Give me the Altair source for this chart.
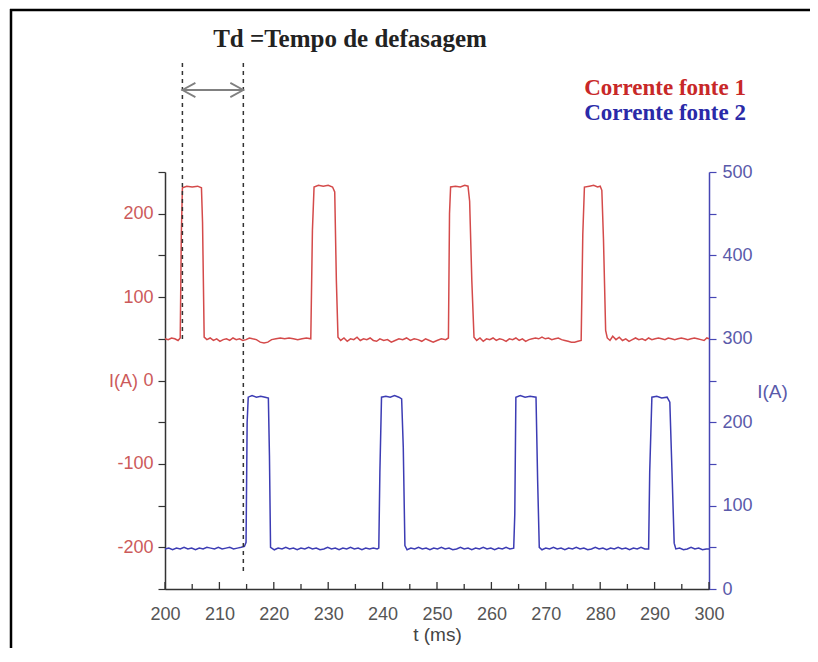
import altair as alt
import pandas as pd

# ---------------- data ----------------
# Corrente fonte 1 (left axis, red)
t1 = [200.0, 200.6, 201.2, 201.8, 202.4, 202.8, 203.0, 203.2, 204.0, 205.0, 206.0, 206.7, 206.9, 207.2,
      207.7, 208.3, 208.9, 209.5, 210.1, 210.7, 211.3, 211.9, 212.5, 213.1, 213.7, 214.3, 214.9, 215.5,
      216.1, 216.8, 217.5, 218.2, 218.9, 219.6, 220.4, 221.2, 222.0, 222.8, 223.6, 224.4, 225.2, 226.0,
      226.8, 227.1, 227.4, 228.2, 229.1, 230.0, 230.8, 231.2, 231.5, 231.8, 232.3, 232.9, 233.5, 234.1,
      234.7, 235.3, 235.9, 236.5, 237.1, 237.7, 238.3, 238.9, 239.5, 240.2, 240.9, 241.6, 242.3, 243.0,
      243.7, 244.4, 245.1, 245.8, 246.5, 247.2, 247.9, 248.6, 249.3, 250.0, 250.8, 251.6, 252.1, 252.3,
      252.5, 253.4, 254.3, 255.1, 255.7, 256.0, 256.4, 256.8, 257.3, 257.9, 258.5, 259.1, 259.7, 260.3,
      260.9, 261.5, 262.1, 262.7, 263.3, 263.9, 264.5, 265.1, 265.7, 266.3, 266.9, 267.5, 268.1, 268.7,
      269.3, 269.9, 270.5, 271.1, 271.7, 272.3, 272.9, 273.5, 274.1, 274.7, 275.3, 275.9, 276.5, 276.8,
      277.1, 278.0, 278.8, 279.5, 280.0, 280.3, 280.6, 281.0, 281.3, 281.8, 282.3, 282.9, 283.5, 284.1,
      284.7, 285.3, 285.9, 286.5, 287.1, 287.7, 288.3, 288.9, 289.5, 290.1, 290.7, 291.3, 291.9, 292.5,
      293.1, 293.7, 294.3, 294.9, 295.5, 296.1, 296.7, 297.3, 297.9, 298.5, 299.1, 299.6, 300.0]
i1 = [50, 49, 51, 50, 48, 51, 175, 231, 233, 232, 233, 231, 190, 52,
      49, 51, 48, 50, 47, 49, 50, 48, 51, 49, 50, 48, 49, 51,
      50, 49, 46, 45, 46, 49, 50, 51, 50, 51, 50, 49, 50, 51,
      50, 180, 232, 234, 233, 234, 232, 226, 120, 52, 48, 51, 47, 50,
      49, 52, 48, 50, 49, 51, 48, 47, 50, 48, 49, 46, 48, 50,
      49, 51, 48, 50, 49, 47, 50, 48, 46, 48, 50, 49, 51, 200,
      232, 233, 232, 234, 233, 215, 120, 52, 48, 51, 47, 50, 49, 51,
      48, 50, 49, 47, 50, 49, 51, 48, 50, 47, 49, 50, 51, 50,
      52, 50, 51, 49, 50, 51, 49, 48, 47, 46, 46, 47, 48, 175,
      232, 233, 234, 232, 233, 228, 170, 60, 51, 48, 53, 49, 52, 48,
      50, 47, 49, 51, 49, 50, 48, 51, 49, 50, 51, 50, 49, 51,
      50, 49, 50, 51, 50, 49, 50, 51, 50, 49, 48, 51, 50]

# Corrente fonte 2 (right axis, blue)
t2 = [200.0, 200.7, 201.4, 202.1, 202.8, 203.5, 204.2, 204.9, 205.6, 206.3, 207.0, 207.7, 208.4, 209.1,
      209.8, 210.5, 211.2, 211.9, 212.6, 213.3, 214.0, 214.6, 214.9, 215.1, 215.3, 216.0, 216.8, 217.6,
      218.4, 219.0, 219.2, 219.4, 220.1, 220.8, 221.5, 222.2, 222.9, 223.6, 224.3, 225.0, 225.7, 226.4,
      227.1, 227.8, 228.5, 229.2, 229.9, 230.6, 231.3, 232.0, 232.7, 233.4, 234.1, 234.8, 235.5, 236.2,
      236.9, 237.6, 238.3, 239.0, 239.3, 239.5, 239.8, 240.6, 241.4, 242.2, 243.0, 243.5, 243.8, 244.1,
      244.5, 245.2, 245.9, 246.6, 247.3, 248.0, 248.7, 249.4, 250.1, 250.8, 251.5, 252.2, 252.9, 253.6,
      254.3, 255.0, 255.7, 256.4, 257.1, 257.8, 258.5, 259.2, 259.9, 260.6, 261.3, 262.0, 262.7, 263.4,
      264.1, 264.3, 264.5, 265.3, 266.2, 267.1, 268.2, 268.5, 268.8, 269.3, 270.0, 270.7, 271.4, 272.1,
      272.8, 273.5, 274.2, 274.9, 275.6, 276.3, 277.0, 277.7, 278.4, 279.1, 279.8, 280.5, 281.2, 281.9,
      282.6, 283.3, 284.0, 284.7, 285.4, 286.1, 286.8, 287.5, 288.2, 288.9, 289.1, 289.5, 290.4, 291.3,
      292.3, 292.8, 293.2, 293.6, 293.9, 294.6, 295.3, 296.0, 296.7, 297.4, 298.1, 298.8, 299.5, 300.0]
i2 = [48, 49, 47, 49, 48, 50, 48, 49, 47, 49, 48, 50, 49, 48,
      50, 48, 49, 50, 48, 49, 50, 51, 56, 200, 230, 232, 230, 231,
      230, 229, 160, 50, 47, 49, 48, 50, 48, 49, 47, 49, 48, 50,
      48, 49, 47, 48, 50, 48, 49, 47, 49, 48, 50, 48, 49, 47,
      49, 48, 49, 48, 49, 140, 230, 231, 230, 232, 230, 228, 170, 52,
      47, 49, 48, 50, 48, 49, 47, 49, 48, 50, 48, 49, 47, 48,
      50, 48, 49, 47, 49, 48, 50, 48, 49, 47, 49, 48, 50, 48,
      49, 90, 230, 232, 230, 231, 230, 130, 50, 47, 49, 48, 50, 48,
      49, 47, 49, 48, 50, 48, 49, 47, 48, 50, 48, 49, 47, 49,
      48, 50, 48, 49, 47, 49, 48, 50, 48, 48, 140, 230, 231, 229,
      230, 224, 140, 55, 48, 49, 47, 48, 50, 48, 49, 47, 48, 48]

td_lines = [203.2, 214.4]          # dashed markers of the phase delay
x_major = [200, 210, 220, 230, 240, 250, 260, 270, 280, 290, 300]
x_minor = [205, 215, 225, 235, 245, 255, 265, 275, 285, 295]
left_ticks = [-250, -200, -150, -100, -50, 0, 50, 100, 150, 200, 250]
right_ticks = [0, 50, 100, 150, 200, 250, 300, 350, 400, 450, 500]

title_td = "Td =Tempo de defasagem"
legend_labels = ["Corrente fonte 1", "Corrente fonte 2"]

# ---------------- styling ----------------
RED_LINE = "#d44a4a"
BLUE_LINE = "#3c3cb4"
RED_TXT = "#c82828"
BLUE_TXT = "#2a2aa8"
RED_LBL = "#cc5a5a"
BLUE_LBL = "#5a5aaa"
SANS = "Liberation Sans"
SERIF = "Liberation Serif"

W, H = 544, 417

df1 = pd.DataFrame({"t": t1, "i": i1})
df2 = pd.DataFrame({"t": t2, "i": i2})

xscale = alt.Scale(domain=[200, 300], nice=False, zero=False)
xaxis = alt.Axis(values=x_major, title="t (ms)", ticks=False, tickSize=0, grid=False,
                 labelFlush=False, labelOverlap=False, labelBound=False,
                 labelFont=SANS, labelFontSize=18, labelColor="#555555", labelPadding=16,
                 domainColor="#333333", domainWidth=1.5,
                 titleFont=SANS, titleFontSize=19, titleFontWeight="normal",
                 titleColor="#444444", titlePadding=2)


def X(field="t"):
    return alt.X(f"{field}:Q", scale=xscale, axis=xaxis)


left_axis = alt.Axis(values=left_ticks, orient="left", grid=False,
                     labelExpr="datum.value % 100 == 0 ? '' + datum.value : ''",
                     labelFont=SANS, labelFontSize=18, labelColor=RED_LBL, labelPadding=5,
                     tickSize=7, tickColor="#333333", tickWidth=1.2,
                     domainColor="#333333", domainWidth=1.5,
                     title="I(A)", titleAngle=0, titleX=-42, titleY=209,
                     titleAlign="center", titleBaseline="middle",
                     titleFont=SANS, titleFontSize=18, titleFontWeight="normal",
                     titleColor=RED_LBL)

right_axis = alt.Axis(values=right_ticks, orient="right", grid=False,
                      labelExpr="datum.value % 100 == 0 ? '' + datum.value : ''",
                      labelFont=SANS, labelFontSize=18, labelColor=BLUE_LBL, labelPadding=6,
                      tickSize=7, tickColor="#4646b4", tickWidth=1.2,
                      domainColor="#4646b4", domainWidth=1.5,
                      title="I(A)", titleAngle=0, titleX=63, titleY=219,
                      titleAlign="center", titleBaseline="middle",
                      titleFont=SANS, titleFontSize=19, titleFontWeight="normal",
                      titleColor=BLUE_LBL)

red = alt.Chart(df1).mark_line(color=RED_LINE, strokeWidth=1.5).encode(
    x=X(),
    y=alt.Y("i:Q", scale=alt.Scale(domain=[-250, 250], nice=False, zero=False), axis=left_axis),
)
blue = alt.Chart(df2).mark_line(color=BLUE_LINE, strokeWidth=1.5).encode(
    x=X(),
    y=alt.Y("i:Q", scale=alt.Scale(domain=[0, 500], nice=False, zero=False), axis=right_axis),
)

# inward x ticks
maj = alt.Chart(pd.DataFrame({"t": x_major})).mark_rule(color="#333333", strokeWidth=1.3).encode(
    x=X(), y=alt.value(H + 1), y2=alt.value(H - 7))
mnr = alt.Chart(pd.DataFrame({"t": x_minor})).mark_rule(color="#333333", strokeWidth=1.3).encode(
    x=X(), y=alt.value(H + 1), y2=alt.value(H - 5))

# dashed phase-delay markers
dash1 = alt.Chart(pd.DataFrame({"t": [td_lines[0]]})).mark_rule(
    color="#333333", strokeWidth=1.5, strokeDash=[4, 4]).encode(
    x=X(), y=alt.value(-109), y2=alt.value(168))
dash2 = alt.Chart(pd.DataFrame({"t": [td_lines[1]]})).mark_rule(
    color="#333333", strokeWidth=1.5, strokeDash=[4, 4]).encode(
    x=X(), y=alt.value(-109), y2=alt.value(399))

# double arrow
arrow_df = pd.DataFrame({"t": [td_lines[0]], "t2": [td_lines[1]]})
arrow = alt.Chart(arrow_df).mark_rule(color="#808080", strokeWidth=2).encode(
    x=X(), x2="t2:Q", y=alt.value(-82))
head_l = alt.Chart(pd.DataFrame({"t": [td_lines[0]]})).mark_point(
    shape="M1,-0.55L0,0L1,0.55", size=676, filled=False, color="#808080", strokeWidth=1.8,
    opacity=1).encode(x=X(), y=alt.value(-82))
head_r = alt.Chart(pd.DataFrame({"t": [td_lines[1]]})).mark_point(
    shape="M-1,-0.55L0,0L-1,0.55", size=676, filled=False, color="#808080", strokeWidth=1.8,
    opacity=1).encode(x=X(), y=alt.value(-82))

# texts
td_text = alt.Chart(pd.DataFrame({"s": [title_td]})).mark_text(
    font=SERIF, fontWeight="bold", fontSize=25, color="#222222", align="center",
    baseline="alphabetic").encode(text="s:N", x=alt.value(185), y=alt.value(-125))
leg1 = alt.Chart(pd.DataFrame({"s": [legend_labels[0]]})).mark_text(
    font=SERIF, fontWeight="bold", fontSize=23, color=RED_TXT, align="right",
    baseline="alphabetic").encode(text="s:N", x=alt.value(581), y=alt.value(-77))
leg2 = alt.Chart(pd.DataFrame({"s": [legend_labels[1]]})).mark_text(
    font=SERIF, fontWeight="bold", fontSize=23, color=BLUE_TXT, align="right",
    baseline="alphabetic").encode(text="s:N", x=alt.value(581), y=alt.value(-52))

# outer frame (top and left edges visible)
frame_top = alt.Chart(pd.DataFrame({"a": [0]})).mark_rule(color="#000000", strokeWidth=2.5).encode(
    x=alt.value(-155), x2=alt.value(660), y=alt.value(-162))
frame_left = alt.Chart(pd.DataFrame({"a": [0]})).mark_rule(color="#000000", strokeWidth=2.5).encode(
    x=alt.value(-154), y=alt.value(-163), y2=alt.value(500))

chart = alt.layer(
    frame_top, frame_left, red, blue, maj, mnr, dash1, dash2, arrow, head_l, head_r,
    td_text, leg1, leg2
).resolve_scale(y="independent").properties(
    width=W, height=H,
    autosize=alt.AutoSizeParams(type="none"),
    padding={"left": 157, "top": 164, "right": 101, "bottom": 59},
    background="white",
).configure_view(stroke=None)

chart.save("out.html", embed_options={"renderer": "svg", "actions": False})
